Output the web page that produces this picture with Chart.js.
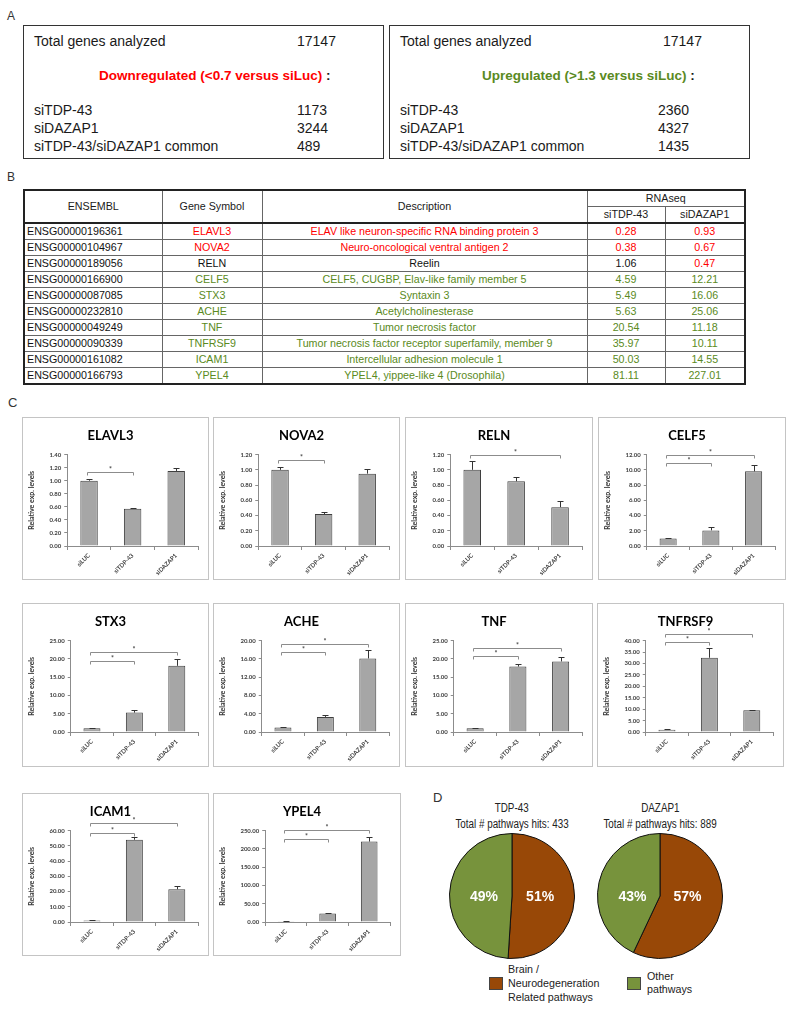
<!DOCTYPE html>
<html>
<head>
<meta charset="utf-8">
<script src="https://cdn.jsdelivr.net/npm/chart.js@4.4.1/dist/chart.umd.min.js"></script>
<style>
body { margin:0; background:#fff; }
#page { position:relative; width:796px; height:1013px; overflow:hidden; font-family:'Liberation Sans', Arial, sans-serif; color:#1a1a1a; }
.abs { position:absolute; white-space:nowrap; }
.plabel { font-size:12px; line-height:14px; color:#333; }
.abox { position:absolute; border:1px solid #333; box-sizing:border-box; top:25px; width:361px; height:134px; }
.t14 { font-size:14px; line-height:16px; }
.head { font-size:13.5px; line-height:16px; font-weight:bold; }
.down { color:#ff0000; }
.up { color:#5a8a22; }
.flat { color:#111; }
#tbl { position:absolute; left:23px; top:189px; width:721px; border-collapse:collapse; table-layout:fixed; font-size:10.7px; border:2px solid #222; }
#tbl td { border:1px solid #666; padding:0; text-align:center; white-space:nowrap; overflow:hidden; height:15px; line-height:15px; }
#tbl tr.h1 td { height:14px; }
#tbl tr.h2 td { height:15px; }
#tbl tr.h2 td, #tbl tr.h1 td[rowspan] { border-bottom:2px solid #222; }
#tbl td.id { text-align:left; padding-left:2px; color:#111; }
.cbox { position:absolute; border:1px solid #c4c4c4; box-sizing:border-box; background:#fff; }
.cbox canvas { position:absolute; left:0; top:0; }
.pie { position:absolute; }
.narrow { display:inline-block; transform:scaleX(0.82); transform-origin:center; }
.ptitle { font-size:12px; line-height:14px; color:#222; text-align:center; width:200px; }
.leg { font-size:10.7px; line-height:14px; color:#222; }
.swatch { position:absolute; width:14px; height:13px; box-sizing:border-box; border:1px solid #444; }
</style>
</head>
<body>
<div id="page"></div>
<script>
// panel A numbers
const totalGenes = 17147;
const setNames = ['siTDP-43', 'siDAZAP1', 'siTDP-43/siDAZAP1 common'];
const downCounts = [1173, 3244, 489];
const upCounts = [2360, 4327, 1435];

// panel B table
const ensemblIds = ['ENSG00000196361', 'ENSG00000104967', 'ENSG00000189056', 'ENSG00000166900', 'ENSG00000087085',
  'ENSG00000232810', 'ENSG00000049249', 'ENSG00000090339', 'ENSG00000161082', 'ENSG00000166793'];
const geneSymbols = ['ELAVL3', 'NOVA2', 'RELN', 'CELF5', 'STX3', 'ACHE', 'TNF', 'TNFRSF9', 'ICAM1', 'YPEL4'];
const descriptions = ['ELAV like neuron-specific RNA binding protein 3', 'Neuro-oncological ventral antigen 2', 'Reelin',
  'CELF5, CUGBP, Elav-like family member 5', 'Syntaxin 3', 'Acetylcholinesterase', 'Tumor necrosis factor',
  'Tumor necrosis factor receptor superfamily, member 9', 'Intercellular adhesion molecule 1', 'YPEL4, yippee-like 4 (Drosophila)'];
const rnaseqTdp = [0.28, 0.38, 1.06, 4.59, 5.49, 5.63, 20.54, 35.97, 50.03, 81.11];
const rnaseqDazap = [0.93, 0.67, 0.47, 12.21, 16.06, 25.06, 11.18, 10.11, 14.55, 227.01];
const geneTrend = ['down', 'down', 'flat', 'up', 'up', 'up', 'up', 'up', 'up', 'up'];
const tdpTrend = ['down', 'down', 'flat', 'up', 'up', 'up', 'up', 'up', 'up', 'up'];
const dazapTrend = ['down', 'down', 'down', 'up', 'up', 'up', 'up', 'up', 'up', 'up'];

// panel C qPCR
const conditions = ['siLUC', 'siTDP-43', 'siDAZAP1'];
const levels = [
  [1.00, 0.57, 1.15], [1.00, 0.42, 0.95], [1.00, 0.85, 0.51], [1.00, 2.05, 9.80], [1.05, 5.30, 18.10],
  [1.00, 3.30, 16.10], [1.00, 17.90, 19.30], [1.00, 32.50, 9.50], [1.00, 54.00, 21.50], [1.00, 23.00, 220.00]
];
const errors = [
  [0.03, 0.01, 0.05], [0.04, 0.02, 0.06], [0.11, 0.06, 0.08], [0.10, 0.45, 0.85], [0.15, 0.60, 1.80],
  [0.08, 0.40, 1.80], [0.20, 0.70, 1.10], [0.20, 4.40, 0.30], [0.30, 2.00, 2.00], [0.50, 2.50, 12.00]
];
const axisMax = [1.4, 1.2, 1.2, 12, 25, 20, 25, 40, 60, 250];
const axisStep = [0.2, 0.2, 0.2, 2, 5, 2, 5, 5, 10, 50];
// significance brackets: [from, to, height]
const brackets = [
  [[0, 1, 1.14]], [[0, 1, 1.13]], [[0, 2, 1.19]], [[0, 1, 10.9], [0, 2, 11.9]], [[0, 1, 19.5], [0, 2, 22]],
  [[0, 1, 17.6], [0, 2, 19.3]], [[0, 1, 20.9], [0, 2, 23]], [[0, 1, 39.6], [0, 2, 43.1]], [[0, 1, 58.7], [0, 2, 65]],
  [[0, 1, 228], [0, 2, 253]]
];

// panel D pies
const pieNames = ['TDP-43', 'DAZAP1'];
const pieTotals = [433, 889];
const brainShare = [51, 57];
const otherShare = [49, 43];
const pieLegend = ['Brain /\nNeurodegeneration\nRelated pathways', 'Other\npathways'];

const page = document.getElementById('page');

function put(text, x, y, cls, lh) {
  const d = document.createElement('div');
  d.className = 'abs ' + cls;
  d.style.left = x + 'px';
  d.style.top = (y - lh / 2) + 'px';
  d.textContent = text;
  page.appendChild(d);
  return d;
}

// panel letters
put('A', 7, 16, 'plabel', 14);
put('B', 7, 177, 'plabel', 14);
put('C', 8, 403, 'plabel', 14).style.fontSize = '13px';
put('D', 433, 798, 'plabel', 14).style.fontSize = '13px';

// panel A boxes
[[23, downCounts, 'Downregulated (<0.7 versus siLuc)', 'down', 99, 297, 297],
 [389, upCounts, 'Upregulated (>1.3 versus siLuc)', 'up', 482, 663, 658]].forEach(([bx, counts, heading, cls, hx, tx, nx]) => {
  const b = document.createElement('div');
  b.className = 'abox';
  b.style.left = bx + 'px';
  page.appendChild(b);
  put('Total genes analyzed', bx + 11, 41, 't14', 16);
  put(String(totalGenes), tx, 41, 't14', 16);
  const h = put('', hx, 76, 'head', 16);
  h.innerHTML = '<span class="' + cls + '">' + heading.replace('<', '&lt;').replace('>', '&gt;') + '</span> :';
  setNames.forEach((n, i) => {
    put(n, bx + 11, 110 + i * 18, 't14', 16);
    put(String(counts[i]), nx, 110 + i * 18, 't14', 16);
  });
});

// panel B table
const tbl = document.createElement('table');
tbl.id = 'tbl';
let html = '<colgroup><col style="width:138px"><col style="width:100px"><col style="width:325px"><col style="width:78px"><col style="width:80px"></colgroup>' +
  '<tr class="h1"><td rowspan="2">ENSEMBL</td><td rowspan="2">Gene Symbol</td><td rowspan="2">Description</td><td colspan="2">RNAseq</td></tr>' +
  '<tr class="h2"><td>siTDP-43</td><td>siDAZAP1</td></tr>';
ensemblIds.forEach((id, i) => {
  html += '<tr><td class="id">' + id + '</td><td class="' + geneTrend[i] + '">' + geneSymbols[i] + '</td>' +
    '<td class="' + geneTrend[i] + '">' + descriptions[i] + '</td>' +
    '<td class="' + tdpTrend[i] + '">' + rnaseqTdp[i].toFixed(2) + '</td>' +
    '<td class="' + dazapTrend[i] + '">' + rnaseqDazap[i].toFixed(2) + '</td></tr>';
});
tbl.innerHTML = html;
page.appendChild(tbl);

// chart plugins
const errorBars = {
  id: 'errorBars',
  afterDatasetsDraw(chart) {
    const ds = chart.data.datasets[0];
    const y = chart.scales.y;
    const ctx = chart.ctx;
    ctx.save();
    ctx.strokeStyle = '#333';
    ctx.lineWidth = 1;
    chart.getDatasetMeta(0).data.forEach((bar, i) => {
      const x = Math.round(bar.x) + 0.5;
      const top = Math.round(y.getPixelForValue(ds.data[i] + ds.errors[i])) + 0.5;
      ctx.beginPath();
      ctx.moveTo(x, bar.y);
      ctx.lineTo(x, top);
      ctx.moveTo(x - 3, top);
      ctx.lineTo(x + 3, top);
      ctx.stroke();
    });
    ctx.restore();
  }
};

const sigBrackets = {
  id: 'sigBrackets',
  afterDraw(chart) {
    const ds = chart.data.datasets[0];
    const {x, y} = chart.scales;
    const ctx = chart.ctx;
    ctx.save();
    ctx.strokeStyle = '#8c8c8c';
    ctx.fillStyle = '#444';
    ctx.lineWidth = 1;
    ctx.font = 'bold 7px Lato';
    ctx.textAlign = 'center';
    ctx.textBaseline = 'bottom';
    ds.brackets.forEach(([a, b, h]) => {
      const x1 = Math.round(x.getPixelForValue(a)) - 1.5;
      const x2 = Math.round(x.getPixelForValue(b)) + 0.5;
      const yy = Math.round(y.getPixelForValue(h)) + 0.5;
      ctx.beginPath();
      ctx.moveTo(x1, yy + 3);
      ctx.lineTo(x1, yy);
      ctx.lineTo(x2, yy);
      ctx.lineTo(x2, yy + 3);
      ctx.stroke();
      ctx.fillText('*', (x1 + x2) / 2, yy + 1);
    });
    ctx.restore();
  }
};

Chart.defaults.animation = false;
Chart.defaults.font.family = 'Lato';

// chart boxes: left, top, width, height
const chartBoxes = [
  [22, 417, 187, 163], [213, 417, 187, 163], [405, 417, 188, 163], [598, 417, 188, 163],
  [22, 603, 187, 164], [213, 603, 187, 164], [405, 603, 188, 164], [597, 603, 187, 164],
  [22, 793, 187, 163], [213, 793, 188, 163]
];

geneSymbols.forEach((gene, g) => {
  const [bx, by, bw, bh] = chartBoxes[g];
  const box = document.createElement('div');
  box.className = 'cbox';
  box.style.left = bx + 'px';
  box.style.top = by + 'px';
  box.style.width = bw + 'px';
  box.style.height = bh + 'px';
  const cv = document.createElement('canvas');
  cv.width = bw - 2;
  cv.height = bh - 2;
  box.appendChild(cv);
  page.appendChild(box);
  const xh = cv.height - 128;

  new Chart(cv, {
    type: 'bar',
    data: {
      labels: conditions,
      datasets: [{
        data: levels[g],
        errors: errors[g],
        brackets: brackets[g],
        backgroundColor: '#a6a6a6',
        borderColor: '#3f3f3f',
        borderWidth: 1,
        categoryPercentage: 1,
        barPercentage: 0.4
      }]
    },
    options: {
      responsive: false,
      layout: { padding: { top: 0, right: 10, bottom: 0, left: 0 } },
      plugins: {
        legend: { display: false },
        tooltip: { enabled: false },
        title: {
          display: true, text: gene, color: '#000',
          font: { family: 'Lato', size: 13, weight: 'bold' },
          padding: { top: 10, bottom: 11 }
        }
      },
      scales: {
        x: {
          ticks: { color: '#404040', font: { size: 6, weight: 'bold' }, minRotation: 45, maxRotation: 45, padding: 2 },
          grid: { display: true, drawOnChartArea: false, tickLength: 4, color: '#8c8c8c' },
          border: { color: '#8c8c8c' },
          afterFit: s => { s.height = xh; }
        },
        y: {
          min: 0,
          max: axisMax[g],
          ticks: { stepSize: axisStep[g], color: '#404040', font: { size: 6, weight: 'bold' }, padding: 3,
                   callback: v => Number(v).toFixed(2) },
          grid: { display: true, drawOnChartArea: false, tickLength: 3, color: '#8c8c8c' },
          border: { color: '#8c8c8c' },
          title: { display: true, text: 'Relative exp. levels', color: '#333',
                   font: { size: 7, weight: 'bold' }, padding: { top: 5, bottom: 10 } }
        }
      }
    },
    plugins: [errorBars, sigBrackets]
  });
});

// panel D
const pctLabels = {
  id: 'pctLabels',
  afterDatasetsDraw(chart) {
    const ctx = chart.ctx;
    const data = chart.data.datasets[0].data;
    ctx.save();
    ctx.fillStyle = '#fff';
    ctx.font = 'bold 14px "Liberation Sans", Arial';
    ctx.textAlign = 'center';
    ctx.textBaseline = 'middle';
    chart.getDatasetMeta(0).data.forEach((arc, i) => {
      const mid = (arc.startAngle + arc.endAngle) / 2;
      ctx.fillText(data[i] + '%', arc.x + Math.cos(mid) * arc.outerRadius * 0.45, arc.y + 1);
    });
    ctx.restore();
  }
};

const pieCenters = [512, 660];
pieNames.forEach((name, p) => {
  const cx = pieCenters[p];
  const t = put('', cx - 100, 808, 'ptitle', 14);
  t.innerHTML = '<span class="narrow">' + name + '</span>';
  const s = put('', cx - 100, 824, 'ptitle', 14);
  s.innerHTML = '<span class="narrow">Total # pathways hits: ' + pieTotals[p] + '</span>';
  const cv = document.createElement('canvas');
  cv.className = 'pie';
  cv.width = 126;
  cv.height = 126;
  cv.style.left = (cx - 63) + 'px';
  cv.style.top = '833px';
  page.appendChild(cv);
  new Chart(cv, {
    type: 'pie',
    data: {
      labels: pieLegend,
      datasets: [{
        data: [brainShare[p], otherShare[p]],
        backgroundColor: ['#984807', '#77933c'],
        borderColor: '#111',
        borderWidth: 1
      }]
    },
    options: {
      responsive: false,
      plugins: { legend: { display: false }, tooltip: { enabled: false } }
    },
    plugins: [pctLabels]
  });
});

// legend
[[489, 508, 969, '#984807'], [627, 647, 976, '#77933c']].forEach(([sx, tx, ty, col], i) => {
  const sw = document.createElement('div');
  sw.className = 'swatch';
  sw.style.left = sx + 'px';
  sw.style.top = '977px';
  sw.style.background = col;
  page.appendChild(sw);
  pieLegend[i].split('\n').forEach((line, k) => {
    put(line, tx, ty + k * (i === 0 ? 14 : 13), 'leg', 14);
  });
});
</script>
</body>
</html>
